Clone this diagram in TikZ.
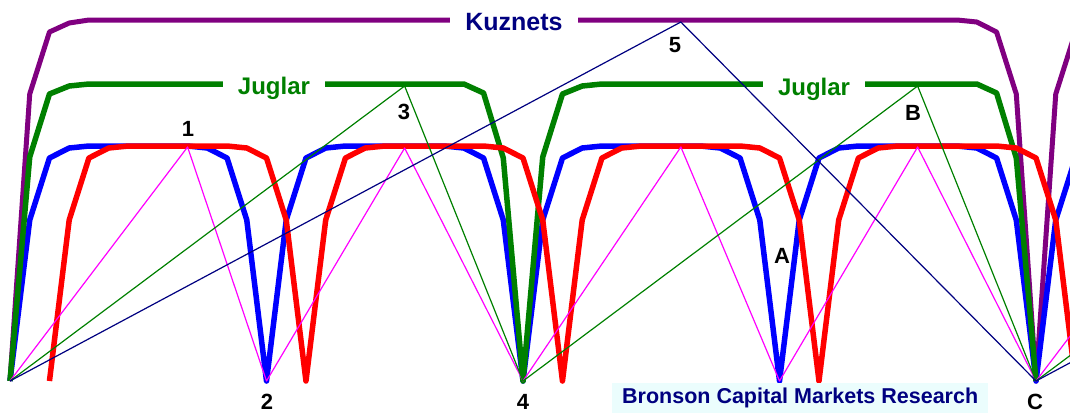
\documentclass[tikz,border=0pt]{standalone}
\usepackage{fontspec}
\setmainfont{Liberation Sans}
\definecolor{kpurple}{HTML}{800080}
\definecolor{jgreen}{HTML}{008000}
\definecolor{navy}{HTML}{000080}
\definecolor{bblue}{HTML}{0000FF}
\definecolor{rred}{HTML}{FF0000}
\definecolor{mag}{HTML}{FF00FF}
\definecolor{boxcyan}{HTML}{EBFDFD}
\tikzset{
  thick line/.style={line width=5.5pt, line join=round},
  thin line/.style={line width=1.2pt, line join=round},
  cycle label/.style={font=\bfseries\fontsize{24}{24}\selectfont, fill=white, inner xsep=15pt, inner ysep=1pt},
  point label/.style={font=\bfseries\fontsize{22}{22}\selectfont, text=black, inner sep=0pt},
}
\begin{document}
\begin{tikzpicture}[x=1pt,y=-1pt]
\useasboundingbox (0,0) rectangle (1070,413);
\begin{scope}
\clip (0,0) rectangle (1070,384);
\begin{scope}[x=19.731pt, xshift=10pt]
  % Kuznets (purple)
  \draw[thick line, kpurple, line width=5pt] (0,381) -- (1,94) -- (2,32) -- (3,23) -- (4,20) -- (48,20) -- (49,22) -- (50,32) -- (51,94) -- (52,381) -- (53,94) -- (54,32) -- (55,23) -- (56,20);
  % Kitchin (blue)
  \draw[thick line, bblue] (0,381) \foreach \s in {0,13,26,39,52} { -- (\s+1,220) -- (\s+2,158) -- (\s+3,148) -- (\s+4,146) -- (\s+9,146) -- (\s+10,148) -- (\s+11,158) -- (\s+12,220) -- (\s+13,381)};
  % Juglar (green)
  \draw[thick line, jgreen] (0,381) \foreach \s in {0,26} { -- (\s+1,157) -- (\s+2,94) -- (\s+3,86) -- (\s+4,84) -- (\s+23,84) -- (\s+24,93) -- (\s+25,158) -- (\s+26,381)};
  % shifted Kitchin (red)
  \draw[thick line, rred] (2,381) \foreach \s in {2,15,28,41} { -- (\s+1,220) -- (\s+2,158) -- (\s+3,148) -- (\s+4,146) -- (\s+9,146) -- (\s+10,148) -- (\s+11,158) -- (\s+12,220) -- (\s+13,381)};
\end{scope}
\node[cycle label, text=navy, font=\bfseries\fontsize{25}{25}\selectfont] (kuz) at (514,22) {Kuznets};
\node[cycle label, text=jgreen] (jug1) at (274,88) {Juglar};
\node[cycle label, text=jgreen] (jug2) at (814,89) {Juglar};
\begin{scope}[x=19.731pt, xshift=10pt]
  \draw[thin line, mag] (0,381) -- (9,147) -- (13,381) -- (20,148) -- (26,381) -- (34,147) -- (39,381) -- (46,147) -- (52,381) -- (61,147);
  \draw[thin line, jgreen] (0,381) -- (20,86) -- (26,381) -- (46,86) -- (52,381) -- (72,86);
  \draw[thin line, navy] (0,381) -- (34,22) -- (52,381) -- (86,22);
\end{scope}
\end{scope}
\node[point label] (p1) at (188,129) {1};
\node[point label] (p2) at (267,402) {2};
\node[point label] (p3) at (404,112) {3};
\node[point label] (p4) at (523,402) {4};
\node[point label] (p5) at (675,45) {5};
\node[point label] (pA) at (782,256) {A};
\node[point label] (pB) at (913,113) {B};
\node[point label] (pC) at (1035,402) {C};
\node[fill=boxcyan, minimum width=376pt, minimum height=30pt, inner sep=0pt, anchor=north west, text=navy, font=\bfseries\fontsize{21.5}{21.5}\selectfont] (bronson) at (612,383) {Bronson Capital Markets Research};
\end{tikzpicture}
\end{document}
